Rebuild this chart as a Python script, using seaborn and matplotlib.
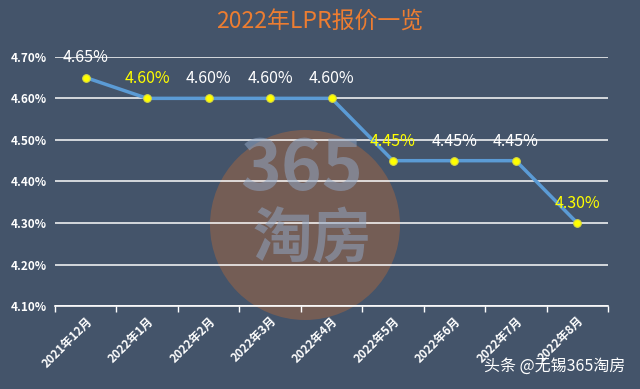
import seaborn as sns
import pandas as pd
import matplotlib.pyplot as plt
import matplotlib.ticker as ticker
from matplotlib.patches import Ellipse

months = ["2021年12月", "2022年1月", "2022年2月", "2022年3月", "2022年4月",
          "2022年5月", "2022年6月", "2022年7月", "2022年8月"]
lpr = [4.65, 4.60, 4.60, 4.60, 4.60, 4.45, 4.45, 4.45, 4.30]
label_colors = ["white", "#FFFF00", "white", "white", "white",
                "#FFFF00", "white", "white", "#FFFF00"]

BG = "#44546A"

sns.set_style("dark")
plt.rcParams["font.family"] = ["Noto Sans CJK SC", "DejaVu Sans"]

df = pd.DataFrame({"month": months, "lpr": lpr})

fig = plt.figure(figsize=(6.4, 3.89), dpi=100, facecolor=BG)
ax = fig.add_axes([0.086, 0.213, 0.864, 0.641])
ax.set_facecolor("none")

# watermark
fig.add_artist(Ellipse((305 / 640, 1 - 225 / 389), 190 / 640, 190 / 389,
                       transform=fig.transFigure, color="#B86A3A", alpha=0.42,
                       zorder=0, lw=0))
fig.text(302 / 640, 1 - 170 / 389, "365", color="#8FA3C0", alpha=0.55,
         fontsize=50, fontweight="bold", ha="center", va="center", zorder=0)
fig.text(312 / 640, 1 - 240 / 389, "淘房", color="#8FA3C0", alpha=0.55,
         fontsize=43, fontweight="bold", ha="center", va="center", zorder=0)

sns.lineplot(data=df, x="month", y="lpr", ax=ax, color="#5B9BD5", lw=2.5,
             sort=False, zorder=3)
ax.scatter(range(len(months)), lpr, s=30, color="#FFFF00",
           edgecolor="#D8D840", lw=0.8, zorder=4)

for i, (v, c) in enumerate(zip(lpr, label_colors)):
    ax.annotate(f"{v:.2f}%", (i, v), xytext=(0, 8), textcoords="offset points",
                ha="center", va="bottom", color=c, fontsize=11.5,
                fontweight="medium", zorder=5)

ax.set_xlim(-0.5, len(months) - 0.5)
ax.set_ylim(4.10, 4.70)
ax.yaxis.set_major_locator(ticker.MultipleLocator(0.10))
ax.yaxis.set_major_formatter(ticker.FuncFormatter(lambda v, p: f"{v:.2f}%"))
ax.grid(axis="y", color="white", lw=1.2, alpha=0.9)
ax.grid(axis="x", visible=False)

ax.set_xticks(range(len(months)))
ax.set_xticklabels(months, rotation=45, ha="right", rotation_mode="anchor")
ax.xaxis.set_minor_locator(ticker.FixedLocator([i - 0.5 for i in range(len(months) + 1)]))
ax.tick_params(axis="x", which="major", length=0, labelsize=8.5,
               labelcolor="white", pad=6)
ax.tick_params(axis="x", which="minor", length=4, color="white", width=1,
               direction="out", bottom=True)
ax.tick_params(axis="y", length=0, labelsize=8.5, labelcolor="white", pad=6)
for lab in ax.get_xticklabels() + ax.get_yticklabels():
    lab.set_fontweight("bold")

for side in ["top", "right", "left"]:
    ax.spines[side].set_visible(False)
ax.spines["bottom"].set_color("white")
ax.spines["bottom"].set_linewidth(1.2)

ax.set_xlabel("")
ax.set_ylabel("")

fig.text(0.5, 1 - 22 / 389, "2022年LPR报价一览", color="#ED7D31", fontsize=16.5,
         ha="center", va="center")
fig.text(625 / 640, 1 - 366 / 389, "头条 @无锡365淘房", color="white", fontsize=11.5,
         ha="right", va="center")

fig.savefig("out.png", dpi=100, facecolor=BG)
